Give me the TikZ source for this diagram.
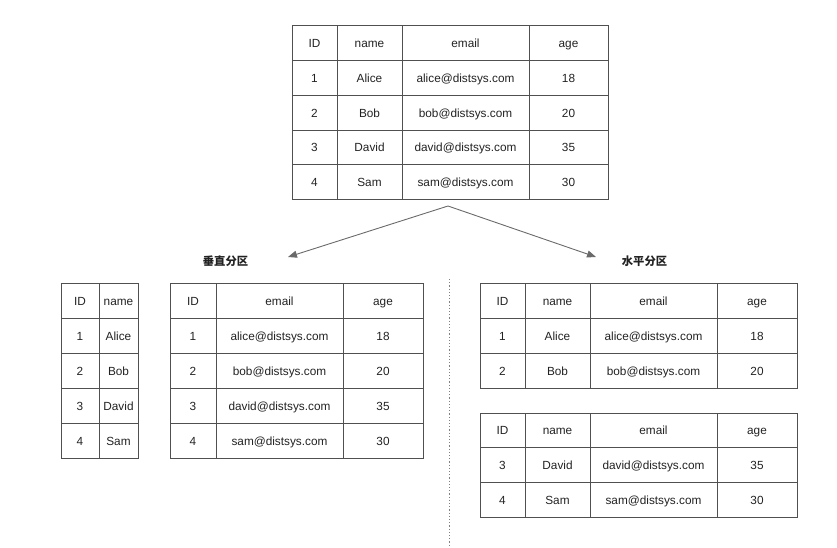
\documentclass[tikz,border=0pt]{standalone}
\usepackage{fontspec}
\setmainfont{Liberation Sans}
\newfontfamily\cjk{Noto Sans CJK SC}
\usetikzlibrary{arrows.meta}
\definecolor{gridc}{HTML}{505050}
\definecolor{arrc}{HTML}{6A6A6A}
\definecolor{txtc}{HTML}{222222}
\tikzset{
  cellbox/.style={draw=gridc, line width=0.9pt, inner sep=0pt, text=txtc,
    text height=9.6pt, text depth=0pt,
    font=\fontsize{11.8}{14}\selectfont},
  splitarrow/.style={draw=arrc, line width=0.9pt, -{Triangle[length=9pt,width=7pt]}},
  cnlabel/.style={text=txtc, font=\cjk\bfseries\fontsize{11.3}{14}\selectfont},
  divider/.style={draw=gray, line width=1.1pt, dash pattern=on 1.2pt off 2pt}
}
\newcommand\tabrow[4]{%
  \foreach \xa/\xb/\txt [count=\ci] in {#4} {%
    \node[cellbox, minimum width={(\xb-\xa)*1pt}, minimum height={(#3-#2)*1pt}]
      (#1-\ci) at ({(\xa+\xb)/2},{(#2+#3)/2}) {\txt};
  }%
}
\begin{document}
\begin{tikzpicture}[x=1pt,y=-1pt]
\useasboundingbox (0,0) rectangle (837,548);
% top table
\tabrow{t0}{25}{60}{292/337/ID, 337/402/name, 402/529/email, 529/608/age}
\tabrow{t1}{60}{95}{292/337/1, 337/402/Alice, 402/529/alice@distsys.com, 529/608/18}
\tabrow{t2}{95}{130}{292/337/2, 337/402/Bob, 402/529/bob@distsys.com, 529/608/20}
\tabrow{t3}{130}{164}{292/337/3, 337/402/David, 402/529/david@distsys.com, 529/608/35}
\tabrow{t4}{164}{199}{292/337/4, 337/402/Sam, 402/529/sam@distsys.com, 529/608/30}
% vertical partition table A
\tabrow{a0}{283}{318}{61/99/ID, 99/138/name}
\tabrow{a1}{318}{353}{61/99/1, 99/138/Alice}
\tabrow{a2}{353}{388}{61/99/2, 99/138/Bob}
\tabrow{a3}{388}{423}{61/99/3, 99/138/David}
\tabrow{a4}{423}{458}{61/99/4, 99/138/Sam}
% vertical partition table B
\tabrow{b0}{283}{318}{170/216/ID, 216/343/email, 343/423/age}
\tabrow{b1}{318}{353}{170/216/1, 216/343/alice@distsys.com, 343/423/18}
\tabrow{b2}{353}{388}{170/216/2, 216/343/bob@distsys.com, 343/423/20}
\tabrow{b3}{388}{423}{170/216/3, 216/343/david@distsys.com, 343/423/35}
\tabrow{b4}{423}{458}{170/216/4, 216/343/sam@distsys.com, 343/423/30}
% horizontal partition table C
\tabrow{c0}{283}{318}{480/525/ID, 525/590/name, 590/717/email, 717/797/age}
\tabrow{c1}{318}{353}{480/525/1, 525/590/Alice, 590/717/alice@distsys.com, 717/797/18}
\tabrow{c2}{353}{388}{480/525/2, 525/590/Bob, 590/717/bob@distsys.com, 717/797/20}
% horizontal partition table D
\tabrow{d0}{413}{447}{480/525/ID, 525/590/name, 590/717/email, 717/797/age}
\tabrow{d1}{447}{482}{480/525/3, 525/590/David, 590/717/david@distsys.com, 717/797/35}
\tabrow{d2}{482}{517}{480/525/4, 525/590/Sam, 590/717/sam@distsys.com, 717/797/30}
% labels
\node[cnlabel] (vlabel) at (225.5,261) {垂直分区};
\node[cnlabel] (hlabel) at (644.5,261) {水平分区};
% arrows
\coordinate (split) at (448,206);
\coordinate (vtip) at (288,257);
\coordinate (htip) at (596,257);
\draw[splitarrow] (split) -- (vtip);
\draw[splitarrow] (split) -- (htip);
% divider
\coordinate (divtop) at (449.5,279);
\coordinate (divbot) at (449.5,547);
\draw[divider] (divtop) -- (divbot);
\end{tikzpicture}
\end{document}
